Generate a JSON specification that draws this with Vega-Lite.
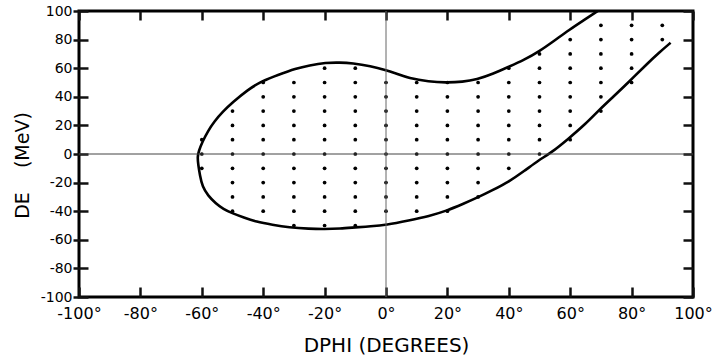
{
  "$schema": "https://vega.github.io/schema/vega-lite/v6.json",
  "width": 614,
  "height": 286,
  "autosize": {"type": "none"},
  "padding": {"left": 79, "top": 11, "right": 25, "bottom": 66},
  "background": "white",
  "config": {
    "view": {"stroke": "black", "strokeWidth": 3},
    "font": "DejaVu Sans",
    "axis": {"grid": false, "domain": false, "labelFlush": false, "labelColor": "black", "titleColor": "black", "labelFont": "DejaVu Sans", "titleFont": "DejaVu Sans", "titleFontWeight": "normal"}
  },
  "datasets": {
    "dots": [
      {"dphi": -60, "de": 10}, {"dphi": -60, "de": 0}, {"dphi": -60, "de": -10},
      {"dphi": -50, "de": 30}, {"dphi": -50, "de": 20}, {"dphi": -50, "de": 10}, {"dphi": -50, "de": 0}, {"dphi": -50, "de": -10}, {"dphi": -50, "de": -20}, {"dphi": -50, "de": -30}, {"dphi": -50, "de": -40},
      {"dphi": -40, "de": 50}, {"dphi": -40, "de": 40}, {"dphi": -40, "de": 30}, {"dphi": -40, "de": 20}, {"dphi": -40, "de": 10}, {"dphi": -40, "de": 0}, {"dphi": -40, "de": -10}, {"dphi": -40, "de": -20}, {"dphi": -40, "de": -30}, {"dphi": -40, "de": -40},
      {"dphi": -30, "de": 50}, {"dphi": -30, "de": 40}, {"dphi": -30, "de": 30}, {"dphi": -30, "de": 20}, {"dphi": -30, "de": 10}, {"dphi": -30, "de": 0}, {"dphi": -30, "de": -10}, {"dphi": -30, "de": -20}, {"dphi": -30, "de": -30}, {"dphi": -30, "de": -40}, {"dphi": -30, "de": -50},
      {"dphi": -20, "de": 60}, {"dphi": -20, "de": 50}, {"dphi": -20, "de": 40}, {"dphi": -20, "de": 30}, {"dphi": -20, "de": 20}, {"dphi": -20, "de": 10}, {"dphi": -20, "de": 0}, {"dphi": -20, "de": -10}, {"dphi": -20, "de": -20}, {"dphi": -20, "de": -30}, {"dphi": -20, "de": -40}, {"dphi": -20, "de": -50},
      {"dphi": -10, "de": 60}, {"dphi": -10, "de": 50}, {"dphi": -10, "de": 40}, {"dphi": -10, "de": 30}, {"dphi": -10, "de": 20}, {"dphi": -10, "de": 10}, {"dphi": -10, "de": 0}, {"dphi": -10, "de": -10}, {"dphi": -10, "de": -20}, {"dphi": -10, "de": -30}, {"dphi": -10, "de": -40}, {"dphi": -10, "de": -50},
      {"dphi": 0, "de": 50}, {"dphi": 0, "de": 40}, {"dphi": 0, "de": 30}, {"dphi": 0, "de": 20}, {"dphi": 0, "de": 10}, {"dphi": 0, "de": 0}, {"dphi": 0, "de": -10}, {"dphi": 0, "de": -20}, {"dphi": 0, "de": -30}, {"dphi": 0, "de": -40},
      {"dphi": 10, "de": 50}, {"dphi": 10, "de": 40}, {"dphi": 10, "de": 30}, {"dphi": 10, "de": 20}, {"dphi": 10, "de": 10}, {"dphi": 10, "de": 0}, {"dphi": 10, "de": -10}, {"dphi": 10, "de": -20}, {"dphi": 10, "de": -30}, {"dphi": 10, "de": -40},
      {"dphi": 20, "de": 50}, {"dphi": 20, "de": 40}, {"dphi": 20, "de": 30}, {"dphi": 20, "de": 20}, {"dphi": 20, "de": 10}, {"dphi": 20, "de": 0}, {"dphi": 20, "de": -10}, {"dphi": 20, "de": -20}, {"dphi": 20, "de": -30}, {"dphi": 20, "de": -40},
      {"dphi": 30, "de": 50}, {"dphi": 30, "de": 40}, {"dphi": 30, "de": 30}, {"dphi": 30, "de": 20}, {"dphi": 30, "de": 10}, {"dphi": 30, "de": 0}, {"dphi": 30, "de": -10}, {"dphi": 30, "de": -20}, {"dphi": 30, "de": -30},
      {"dphi": 40, "de": 60}, {"dphi": 40, "de": 50}, {"dphi": 40, "de": 40}, {"dphi": 40, "de": 30}, {"dphi": 40, "de": 20}, {"dphi": 40, "de": 10}, {"dphi": 40, "de": 0}, {"dphi": 40, "de": -10},
      {"dphi": 50, "de": 70}, {"dphi": 50, "de": 60}, {"dphi": 50, "de": 50}, {"dphi": 50, "de": 40}, {"dphi": 50, "de": 30}, {"dphi": 50, "de": 20}, {"dphi": 50, "de": 10}, {"dphi": 50, "de": 0},
      {"dphi": 60, "de": 80}, {"dphi": 60, "de": 70}, {"dphi": 60, "de": 60}, {"dphi": 60, "de": 50}, {"dphi": 60, "de": 40}, {"dphi": 60, "de": 30}, {"dphi": 60, "de": 20}, {"dphi": 60, "de": 10},
      {"dphi": 70, "de": 90}, {"dphi": 70, "de": 80}, {"dphi": 70, "de": 70}, {"dphi": 70, "de": 60}, {"dphi": 70, "de": 50}, {"dphi": 70, "de": 40}, {"dphi": 70, "de": 30},
      {"dphi": 80, "de": 90}, {"dphi": 80, "de": 80}, {"dphi": 80, "de": 70}, {"dphi": 80, "de": 60}, {"dphi": 80, "de": 50},
      {"dphi": 90, "de": 90}, {"dphi": 90, "de": 80}
    ],
    "curve": [
      {"i": 1, "dphi": 69, "de": 100}, {"i": 2, "dphi": 64, "de": 93}, {"i": 3, "dphi": 59.6, "de": 86.7}, {"i": 4, "dphi": 55, "de": 79.5}, {"i": 5, "dphi": 49.8, "de": 71.6}, {"i": 6, "dphi": 45, "de": 65.8}, {"i": 7, "dphi": 40, "de": 61}, {"i": 8, "dphi": 35, "de": 56.2}, {"i": 9, "dphi": 29.5, "de": 52}, {"i": 10, "dphi": 25, "de": 50.4}, {"i": 11, "dphi": 19.4, "de": 49.9}, {"i": 12, "dphi": 14, "de": 50.6}, {"i": 13, "dphi": 7.5, "de": 53}, {"i": 14, "dphi": 3, "de": 56.5}, {"i": 15, "dphi": 0, "de": 58.7}, {"i": 16, "dphi": -5, "de": 61.5}, {"i": 17, "dphi": -11, "de": 63.5}, {"i": 18, "dphi": -15, "de": 64}, {"i": 19, "dphi": -19.6, "de": 63.9}, {"i": 20, "dphi": -25, "de": 62}, {"i": 21, "dphi": -29.4, "de": 59.8}, {"i": 22, "dphi": -35, "de": 55.5}, {"i": 23, "dphi": -40.4, "de": 51}, {"i": 24, "dphi": -45, "de": 45}, {"i": 25, "dphi": -50, "de": 36}, {"i": 26, "dphi": -53, "de": 30}, {"i": 27, "dphi": -56, "de": 22.6}, {"i": 28, "dphi": -58, "de": 16}, {"i": 29, "dphi": -59.8, "de": 8.6}, {"i": 30, "dphi": -61, "de": 2}, {"i": 31, "dphi": -61.4, "de": -2}, {"i": 32, "dphi": -61.2, "de": -7}, {"i": 33, "dphi": -60.6, "de": -15}, {"i": 34, "dphi": -59.8, "de": -22.9}, {"i": 35, "dphi": -58, "de": -29}, {"i": 36, "dphi": -55.5, "de": -34.5}, {"i": 37, "dphi": -53, "de": -38.5}, {"i": 38, "dphi": -50, "de": -41.5}, {"i": 39, "dphi": -46, "de": -44.7}, {"i": 40, "dphi": -42.4, "de": -47.3}, {"i": 41, "dphi": -37, "de": -49.5}, {"i": 42, "dphi": -31.6, "de": -51.3}, {"i": 43, "dphi": -25, "de": -52.3}, {"i": 44, "dphi": -20, "de": -52.5}, {"i": 45, "dphi": -15, "de": -52.2}, {"i": 46, "dphi": -9.9, "de": -51.3}, {"i": 47, "dphi": -5, "de": -50.6}, {"i": 48, "dphi": 0, "de": -49.7}, {"i": 49, "dphi": 7.5, "de": -46.5}, {"i": 50, "dphi": 14, "de": -43.5}, {"i": 51, "dphi": 20, "de": -39.5}, {"i": 52, "dphi": 25, "de": -35}, {"i": 53, "dphi": 30, "de": -30.3}, {"i": 54, "dphi": 35, "de": -25}, {"i": 55, "dphi": 40, "de": -19.4}, {"i": 56, "dphi": 45, "de": -12}, {"i": 57, "dphi": 49.8, "de": -4.2}, {"i": 58, "dphi": 53.6, "de": 0.5}, {"i": 59, "dphi": 59.6, "de": 11}, {"i": 60, "dphi": 65, "de": 21}, {"i": 61, "dphi": 69.4, "de": 30.8}, {"i": 62, "dphi": 74, "de": 40}, {"i": 63, "dphi": 79.2, "de": 50.6}, {"i": 64, "dphi": 85, "de": 63}, {"i": 65, "dphi": 89, "de": 71}, {"i": 66, "dphi": 92.7, "de": 77.8}
    ],
    "zero": [{"v": 0}]
  },
  "layer": [
    {
      "data": {"name": "curve"},
      "mark": {"type": "line", "color": "black", "strokeWidth": 2.6, "interpolate": "basis", "clip": true},
      "encoding": {
        "x": {"field": "dphi", "type": "quantitative", "scale": {"domain": [-100, 100], "nice": false, "zero": false},
          "axis": {"orient": "top", "values": [-100, -80, -60, -40, -20, 0, 20, 40, 60, 80, 100], "labels": false, "tickColor": "#111111", "tickWidth": 2.5, "tickSize": -9, "title": null}},
        "y": {"field": "de", "type": "quantitative", "scale": {"domain": [-100, 100], "nice": false, "zero": false},
          "axis": {"orient": "right", "values": [-100, -80, -60, -40, -20, 0, 20, 40, 60, 80, 100], "labels": false, "tickColor": "#111111", "tickWidth": 2.5, "tickSize": -10, "title": null}},
        "order": {"field": "i", "type": "quantitative"}
      }
    },
    {
      "data": {"name": "dots"},
      "mark": {"type": "circle", "color": "black", "size": 14, "opacity": 1},
      "encoding": {
        "x": {"field": "dphi", "type": "quantitative", "scale": {"domain": [-100, 100], "nice": false, "zero": false},
          "axis": {"orient": "bottom", "values": [-100, -80, -60, -40, -20, 0, 20, 40, 60, 80, 100], "labelExpr": "datum.value + '°'", "tickColor": "#111111", "tickWidth": 2.5, "tickSize": 10, "offset": -10, "labelPadding": 8, "labelFontSize": 16, "title": "DPHI (DEGREES)", "titleFontSize": 20, "titleY": 48, "titleBaseline": "top"}},
        "y": {"field": "de", "type": "quantitative", "scale": {"domain": [-100, 100], "nice": false, "zero": false},
          "axis": {"orient": "left", "values": [-100, -80, -60, -40, -20, 0, 20, 40, 60, 80, 100], "labelExpr": "'' + datum.value", "tickColor": "#111111", "tickWidth": 2.5, "tickSize": 15, "offset": -9, "labelPadding": 1, "labelFontSize": 14, "title": "DE\u00a0\u00a0\u00a0\u00a0(MeV)", "titleFontSize": 19, "titleX": -60, "titleY": 154, "titleBaseline": "alphabetic", "titleAlign": "center", "titleAngle": -90}}
      }
    },
    {
      "data": {"name": "zero"},
      "mark": {"type": "rule", "color": "#444", "strokeWidth": 1},
      "encoding": {"y": {"field": "v", "type": "quantitative", "scale": {"domain": [-100, 100], "nice": false, "zero": false}, "axis": null}}
    },
    {
      "data": {"name": "zero"},
      "mark": {"type": "rule", "color": "#666", "strokeWidth": 1},
      "encoding": {"x": {"field": "v", "type": "quantitative", "scale": {"domain": [-100, 100], "nice": false, "zero": false}, "axis": null}}
    }
  ],
  "resolve": {"axis": {"x": "independent", "y": "independent"}}
}
